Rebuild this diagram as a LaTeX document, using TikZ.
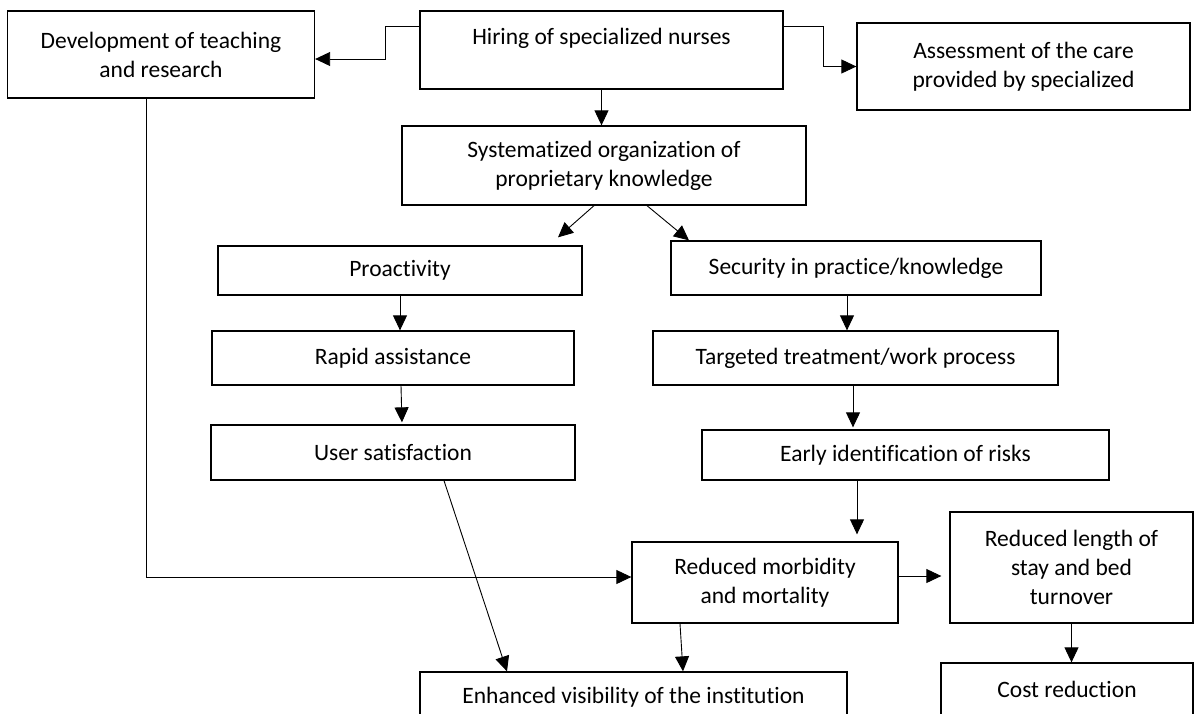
\documentclass[tikz,border=0pt]{standalone}
\usepackage{fontspec}
\setmainfont{Carlito}[Ligatures=NoCommon]
\usetikzlibrary{arrows.meta}

\begin{document}
\begin{tikzpicture}[x=1pt,y=-1pt,
    box/.style={draw, line width=1.3pt, align=center, inner sep=0pt,
        font=\fontsize{23.5pt}{29pt}\selectfont},
    arr/.style={line width=0.9pt, -{Triangle[length=15pt,width=14pt]}}]
    \useasboundingbox (0,0) rectangle (1195,713);

    % top row
    \node[box, minimum width=307pt, minimum height=87pt] (dev) at (161,54.5) {Development of teaching\\and research};
    \node[box, minimum width=363pt, minimum height=78pt, text depth=27pt] (hiring) at (601.5,50) {Hiring of specialized nurses};
    \node[box, minimum width=333pt, minimum height=87pt] (assess) at (1023.5,66.5) {Assessment of the care\\provided by specialized};
    \node[box, minimum width=404pt, minimum height=79pt] (syst) at (604,165.5) {Systematized organization of\\proprietary knowledge};

    % left branch
    \node[box, minimum width=364pt, minimum height=49pt] (proact) at (400,270.5) {Proactivity};
    \node[box, minimum width=362pt, minimum height=54pt] (rapid) at (393,358) {Rapid assistance};
    \node[box, minimum width=364pt, minimum height=55pt] (user) at (393,452.5) {User satisfaction};

    % right branch
    \node[box, minimum width=370pt, minimum height=54pt] (secur) at (856,268) {Security in practice/knowledge};
    \node[box, minimum width=405pt, minimum height=54pt] (target) at (855.5,358) {Targeted treatment/work process};
    \node[box, minimum width=407pt, minimum height=50pt] (early) at (905.5,455) {Early identification of risks};

    % bottom
    \node[box, minimum width=266pt, minimum height=81pt] (reduced) at (765,582.5) {Reduced morbidity\\and mortality};
    \node[box, minimum width=243pt, minimum height=111pt] (length) at (1071.5,567.5) {Reduced length of\\stay and bed\\turnover};
    \node[box, minimum width=427pt, minimum height=50pt] (enhanced) at (633.5,697) {Enhanced visibility of the institution};
    \node[box, minimum width=252pt, minimum height=52pt] (cost) at (1067,689) {Cost reduction};

    % connectors
    \draw[arr] ([yshift=24pt]hiring.west) -- ++(-34,0) |- ([yshift=-4.5pt]dev.east);
    \draw[arr] ([yshift=24pt]hiring.east) -- ++(40,0) |- (assess.west);
    \draw[arr] (hiring.south) -- (hiring.south |- syst.north);
    \draw[arr] ([xshift=-10pt]syst.south) -- ([xshift=158pt,yshift=8pt]proact.north);
    \draw[arr] ([xshift=43pt]syst.south) -- ([xshift=-167pt]secur.north);
    \draw[arr] (proact.south) -- (proact.south |- rapid.north);
    \draw[arr, shorten >=2pt] ([xshift=8pt]rapid.south) -- ([xshift=9pt]user.north);
    \draw[arr] ([xshift=-9pt]secur.south) -- ([xshift=-9pt]secur.south |- target.north);
    \draw[arr, shorten >=2pt] ([xshift=-2.5pt]target.south) -- ([xshift=-2.5pt]target.south |- early.north);
    \draw[arr, shorten >=7pt] ([xshift=-48.5pt]early.south) -- ([xshift=-48.5pt]early.south |- reduced.north);
    \draw[arr] ([xshift=-15pt]dev.south) |- ([yshift=5.5pt]reduced.west);
    \draw[arr] ([xshift=51pt]user.south) -- ([xshift=-126.5pt]enhanced.north);
    \draw[arr] ([xshift=-85pt]reduced.south) -- ([xshift=49.5pt]enhanced.north);
    \draw[arr, shorten >=8pt] ([yshift=6.5pt]reduced.east) -- ([yshift=6.5pt]reduced.east -| length.west);
    \draw[arr] (length.south) -- (length.south |- cost.north);
\end{tikzpicture}
\end{document}
